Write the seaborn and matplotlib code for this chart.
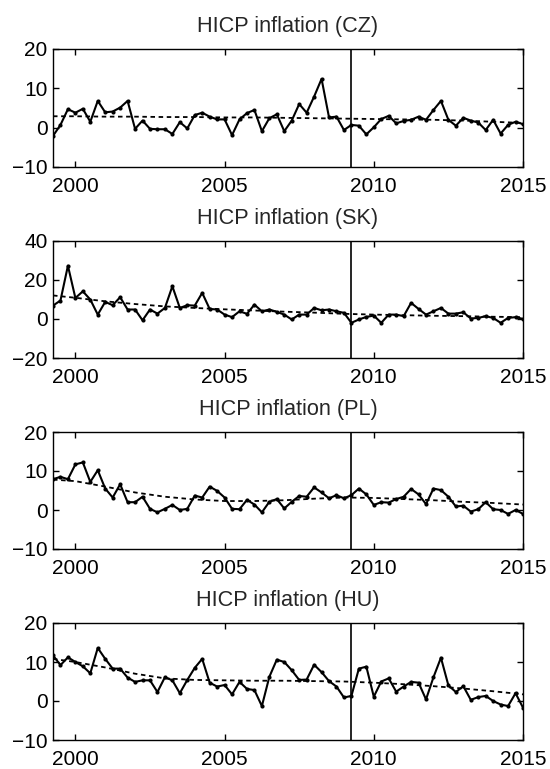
import numpy as np
import pandas as pd
import matplotlib
matplotlib.use("Agg")
import matplotlib.pyplot as plt
import seaborn as sns

# Quarterly observations 1999Q2 .. 2015Q1
years = [1999 + (q + 1) // 4 for q in range(64)]
quarters = [((q + 1) % 4) + 1 for q in range(64)]

cz = [-2.1, 0.7, 4.7, 3.8, 4.8, 1.5, 6.8, 3.9, 4.1, 5.1, 6.8, -0.3, 1.8, -0.3, -0.4, -0.4,
      -1.6, 1.4, -0.2, 3.2, 3.8, 2.8, 2.1, 2.1, -1.9, 2.1, 3.7, 4.5, -0.9, 2.4, 3.4, -0.9,
      1.8, 6.0, 3.8, 7.9, 12.4, 2.6, 2.8, -0.6, 0.7, 0.5, -1.7, 0.1, 2.2, 3.0, 1.1, 1.7,
      2.0, 2.8, 2.0, 4.5, 6.8, 2.0, 0.5, 2.5, 1.8, 1.3, -0.6, 2.0, -1.5, 0.7, 1.5, 0.9]
sk = [6.8, 9.4, 27.2, 10.7, 14.1, 9.9, 2.2, 8.7, 7.0, 11.1, 4.8, 4.8, -0.7, 4.8, 2.7, 5.6,
      16.7, 5.6, 7.0, 6.8, 13.3, 5.1, 4.8, 2.2, 0.9, 3.9, 2.6, 7.3, 3.9, 4.8, 3.6, 2.2,
      -0.3, 2.2, 2.2, 5.6, 4.4, 4.8, 3.9, 3.1, -2.0, -0.3, 1.0, 1.7, -2.0, 2.2, 2.2, 1.4,
      8.2, 5.1, 2.2, 3.9, 5.6, 2.7, 2.7, 3.4, 0.2, 0.5, 1.4, 0.5, -2.0, 0.5, 0.9, 0.0]
pl = [7.9, 8.5, 7.9, 11.7, 12.2, 7.2, 10.2, 5.5, 3.2, 6.6, 2.0, 2.0, 3.4, 0.3, -0.6, 0.3,
      1.3, 0.0, 0.3, 3.7, 3.2, 6.0, 4.9, 3.2, 0.3, 0.2, 2.6, 1.4, -0.6, 2.1, 2.8, 0.4,
      2.1, 3.6, 3.4, 5.8, 4.5, 3.0, 3.8, 3.0, 3.8, 5.5, 4.0, 1.3, 2.0, 1.9, 2.8, 3.4,
      5.4, 4.0, 1.5, 5.5, 5.1, 3.4, 0.9, 1.1, -0.4, 0.2, 2.0, 0.2, 0.0, -1.0, 0.0, -1.0]
hu = [11.7, 9.2, 11.2, 10.0, 8.9, 7.1, 13.6, 10.8, 8.3, 8.3, 6.0, 4.9, 5.3, 5.3, 2.3, 6.1,
      5.3, 2.0, 5.4, 8.5, 10.8, 4.7, 3.7, 4.1, 1.7, 4.9, 3.1, 2.8, -1.3, 6.2, 10.6, 10.0,
      7.9, 5.4, 5.5, 9.3, 7.4, 5.1, 3.7, 0.9, 1.3, 8.3, 8.8, 1.1, 5.0, 5.8, 2.4, 3.7,
      4.9, 4.7, 0.4, 6.1, 11.1, 4.0, 2.3, 3.8, 0.3, 1.0, 1.3, 0.0, -0.9, -1.3, 2.0, -1.7]

# Trend (dashed) read at knots
trend_x = [1999.25, 2000, 2001, 2002, 2003, 2004, 2005, 2006, 2007, 2008, 2009, 2010,
           2011, 2012, 2013, 2014, 2015]
cz_trend = [2.9, 2.9, 2.8, 2.8, 2.7, 2.7, 2.6, 2.6, 2.5, 2.4, 2.3, 2.2, 2.1, 2.0, 1.8, 1.5, 1.2]
sk_trend = [12.0, 10.8, 9.0, 7.6, 6.4, 5.6, 4.9, 4.3, 3.7, 3.2, 2.6, 2.2, 1.9, 1.6, 1.4, 1.1, 0.9]
pl_trend = [7.8, 7.4, 6.0, 4.5, 3.4, 2.7, 2.3, 2.3, 2.5, 2.9, 3.2, 3.1, 2.8, 2.5, 2.1, 1.8, 1.4]
hu_trend = [10.8, 10.0, 8.6, 7.0, 5.8, 5.4, 5.3, 5.2, 5.2, 5.1, 5.0, 4.7, 4.3, 3.8, 3.2, 2.5, 1.7]

titles = ["HICP inflation (CZ)", "HICP inflation (SK)", "HICP inflation (PL)", "HICP inflation (HU)"]
ylims = [(-10, 20), (-20, 40), (-10, 20), (-10, 20)]
yticks = [[-10, 0, 10, 20], [-20, 0, 20, 40], [-10, 0, 10, 20], [-10, 0, 10, 20]]
xticks = [2000, 2005, 2010, 2015]
break_date = 2009.25

sns.set_style("ticks")
plt.rcParams["font.family"] = ["Liberation Sans", "DejaVu Sans"]
plt.rcParams["axes.linewidth"] = 1.0

t = [y + (q - 1) / 4 for y, q in zip(years, quarters)]
df = pd.DataFrame({"t": t, "CZ": cz, "SK": sk, "PL": pl, "HU": hu})
tr = pd.DataFrame({"t": trend_x, "CZ": cz_trend, "SK": sk_trend, "PL": pl_trend, "HU": hu_trend})

W, H = 550, 769
fig = plt.figure(figsize=(W / 100, H / 100), dpi=100)
boxes = [(49, 167), (240.7, 358), (432, 549), (623, 740)]
left, right = 53, 523

for k, (col, title) in enumerate(zip(["CZ", "SK", "PL", "HU"], titles)):
    top, bot = boxes[k]
    ax = fig.add_axes([left / W, (H - bot) / H, (right - left) / W, (bot - top) / H])
    sns.lineplot(data=tr, x="t", y=col, ax=ax, color="black", lw=1.3,
                 linestyle=(0, (2.5, 2)))
    sns.lineplot(data=df, x="t", y=col, ax=ax, color="black", lw=1.5,
                 marker="o", markersize=3, markeredgewidth=0)
    ax.axvline(break_date, color="black", lw=1.2)
    ax.set_xlim(1999.25, 2015)
    ax.set_ylim(*ylims[k])
    ax.set_xticks(xticks)
    ax.set_yticks(yticks[k])
    ax.set_xlabel("")
    ax.set_ylabel("")
    ax.tick_params(direction="in", length=4, width=1.0, top=True, right=True,
                   labelsize=15, colors="black")
    ax.tick_params(axis="x", pad=7)
    ax.tick_params(axis="y", pad=4)
    ax.set_title(title, fontsize=15.6, pad=12)
    for s in ax.spines.values():
        s.set_color("black")

fig.savefig("out.png", dpi=100)
